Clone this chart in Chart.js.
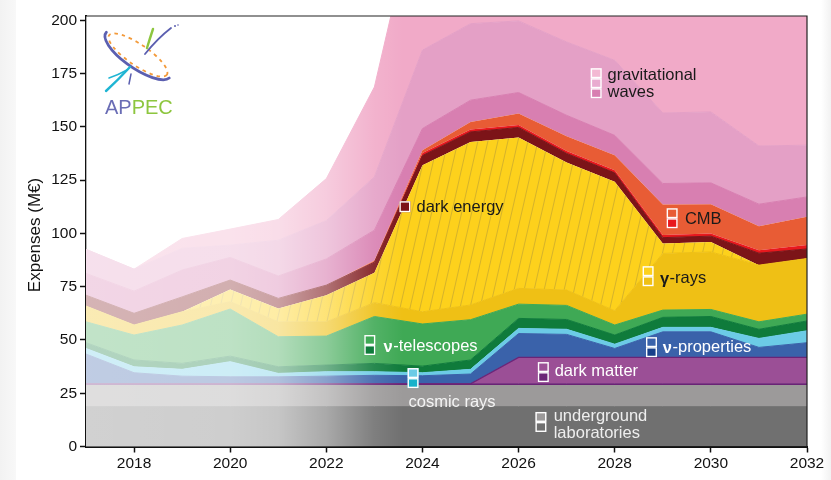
<!DOCTYPE html>
<html>
<head>
<meta charset="utf-8">
<script src="https://cdn.jsdelivr.net/npm/chart.js@4.4.1/dist/chart.umd.min.js"></script>
<style>
  html, body { margin: 0; padding: 0; background: #fff; }
  #wrap { width: 831px; height: 480px; }
</style>
</head>
<body>
<div id="wrap"><canvas id="chart" width="831" height="480"></canvas></div>
<script>
const years = [2017, 2018, 2019, 2020, 2021, 2022, 2023, 2024, 2025, 2026, 2027, 2028, 2029, 2030, 2031, 2032];
const yTicks = [0, 25, 50, 75, 100, 125, 150, 175, 200];

// layer thicknesses (M€), bottom to top
const undergroundA = [18.7, 18.7, 18.7, 18.7, 18.7, 18.7, 18.7, 18.7, 18.7, 18.7, 18.7, 18.7, 18.7, 18.7, 18.7, 18.7];
const undergroundB = [9.9, 9.9, 9.9, 9.9, 9.9, 9.9, 9.9, 9.9, 9.9, 9.9, 9.9, 9.9, 9.9, 9.9, 9.9, 9.9];
const darkMatterA = [0.8, 0.8, 0.8, 0.8, 0.8, 0.8, 0.8, 0.8, 0.8, 0.8, 0.8, 0.8, 0.8, 0.8, 0.8, 0.8];
const darkMatterB = [0, 0, 0, 0, 0, 0, 0, 0, 0, 12.4, 12.4, 12.4, 12.4, 12.4, 12.4, 12.4];
const nuPropA = [14, 5.2, 3.6, 3.3, 3.3, 3.6, 4, 3.8, 4.6, 11.2, 10.8, 4.2, 12, 12, 4.7, 6.9];
const nuPropB = [2.6, 2.8, 3.2, 7.1, 1.6, 2.1, 1.7, 1.4, 2.2, 2.4, 2.4, 2, 2.1, 2.1, 4.2, 5.6];
const nuTelA = [2.7, 3.2, 2.8, 2.6, 3.1, 3.1, 3.9, 3.1, 4.4, 4.7, 4.6, 4.3, 4.7, 5.1, 4.3, 4.6];
const nuTelB = [9.8, 11.7, 18, 22.1, 14.1, 13.6, 22, 19.8, 18.9, 6.7, 6.6, 4.7, 3.4, 3.3, 3.5, 3.2];
const gammaA = [7.4, 4.7, 6.2, 3.5, 7, 6.7, 6.5, 5.7, 6.9, 7.4, 7.2, 6.7, 26.6, 27, 26.6, 26.1];
const gammaB = [0, 0, 0, 5.7, 6.3, 12.5, 14, 68.8, 76.5, 70.8, 59.9, 60.5, 4.7, 4.7, 0, 0];
const darkEnergy = [5.1, 5.5, 7, 4.4, 4.7, 4.7, 5, 4.5, 4.7, 4.7, 4.2, 4.2, 2.7, 2.7, 5.6, 4.5];
const cmbA = [0, 0, 0, 0, 0, 0, 0.3, 1.2, 1.2, 1.2, 1.2, 1.2, 1.2, 1.3, 1.4, 1.8];
const cmbB = [0, 0, 0, 0, 0, 0, 0.5, 1.3, 3.5, 5.3, 6.9, 7.1, 14.3, 13.7, 11.3, 13.3];
const gwA = [10.2, 10.4, 12.6, 10.6, 10.5, 12.3, 14.2, 10.2, 10.2, 9.9, 9.8, 9.3, 9.9, 10, 10.3, 9.3];
const gwB = [11.3, 10.3, 10.2, 5.8, 16.8, 18, 25, 36.8, 35.9, 33.6, 34.4, 35.2, 33.1, 33.3, 27.3, 24.3];
const gwC = [0, 0, 4.6, 7.5, 9.7, 19.7, 42.2, 80, 63.6, 58.3, 64.2, 68.8, 89.5, 85, 99, 98.6];

// how washed out the early years are
const fadeStops = [[2017, 0.68], [2020, 0.66], [2021, 0.6], [2022, 0.4], [2023, 0.1], [2023.6, 0]];

const FONT = '"Liberation Sans", Arial, sans-serif';

function makeHatch() {
  const c = document.createElement('canvas');
  c.width = 10; c.height = 44;
  const g = c.getContext('2d');
  g.fillStyle = '#fdd11c';
  g.fillRect(0, 0, 10, 44);
  g.strokeStyle = 'rgba(125,110,80,0.45)';
  g.lineWidth = 0.7;
  for (const dx of [-10, 0, 10]) {
    g.beginPath(); g.moveTo(dx, 44); g.lineTo(dx + 10, 0); g.stroke();
  }
  return g.createPattern(c, 'repeat');
}
const hatch = makeHatch();

function layer(label, data, color, extra) {
  return Object.assign({
    label: label,
    data: data,
    backgroundColor: color,
    borderColor: color,
    borderWidth: 1,
    fill: '-1',
    pointRadius: 0,
    tension: 0
  }, extra || {});
}

const datasets = [
  layer('underground laboratories A', undergroundA, '#707070', { fill: 'origin' }),
  layer('underground laboratories B', undergroundB, '#9c9a9a'),
  layer('dark matter A', darkMatterA, '#6b2477'),
  layer('dark matter B', darkMatterB, '#9b4f96', { borderColor: '#6b2477', borderWidth: 1.2 }),
  layer('ν-properties A', nuPropA, '#3a62aa'),
  layer('ν-properties B', nuPropB, '#6ccbe6'),
  layer('ν-telescopes A', nuTelA, '#0f7b3b'),
  layer('ν-telescopes B', nuTelB, '#3fa955'),
  layer('γ-rays A', gammaA, '#efc015'),
  layer('γ-rays B', gammaB, hatch, { borderColor: 'rgba(0,0,0,0)' }),
  layer('dark energy', darkEnergy, '#7c1418'),
  layer('CMB A', cmbA, '#e8191e', { borderColor: 'rgba(0,0,0,0)' }),
  layer('CMB B', cmbB, '#e85c35', { borderColor: 'rgba(0,0,0,0)' }),
  layer('gravitational waves A', gwA, '#d87fb1'),
  layer('gravitational waves B', gwB, '#e4a0c6'),
  layer('gravitational waves C', gwC, '#f1aac8')
];

// annotation boxes and texts, anchored in (year, value)
const icons = [
  { year: 2027.5, value: 177.5, colors: ['#f3b9d3', '#e9acd0', '#d87fb1'] },
  { year: 2023.52, value: 115.1, colors: ['#7c1418'], h: 11 },
  { year: 2029.08, value: 111.8, colors: ['#e85c35', '#e8191e'] },
  { year: 2028.58, value: 84.6, colors: ['#fdd11c', '#efc015'] },
  { year: 2022.79, value: 52.3, colors: ['#3fa955', '#0f7b3b'] },
  { year: 2023.69, value: 36.8, colors: ['#6ccbe6', '#17b2ca'] },
  { year: 2026.40, value: 39.6, colors: ['#9b4f96', '#6b2477'] },
  { year: 2028.65, value: 51.3, colors: ['#3a62aa', '#173f8a'] },
  { year: 2026.35, value: 16.2, colors: ['#9c9a9a', '#707070'] }
];
const texts = [
  { t: 'gravitational', year: 2027.85, value: 174.0, color: '#1a1a1a' },
  { t: 'waves', year: 2027.85, value: 166.0, color: '#1a1a1a' },
  { t: 'dark energy', year: 2023.875, value: 112.4, color: '#1a1a1a' },
  { t: 'CMB', year: 2029.46, value: 106.4, color: '#1a1a1a' },
  { t: '-rays', b: 'γ', year: 2028.94, value: 79.0, color: '#1a1a1a' },
  { t: '-telescopes', b: 'ν', year: 2023.19, value: 46.9, color: '#ffffff' },
  { t: 'cosmic rays', year: 2023.71, value: 20.9, color: '#f4f4f4' },
  { t: 'dark matter', year: 2026.75, value: 35.2, color: '#ffffff' },
  { t: '-properties', b: 'ν', year: 2029.0, value: 46.7, color: '#ffffff' },
  { t: 'underground', year: 2026.73, value: 14.1, color: '#eeeeee' },
  { t: 'laboratories', year: 2026.73, value: 5.9, color: '#eeeeee' }
];

function px(chart, year) {
  return chart.scales.x.getPixelForValue(year - years[0]);
}

const backgroundPlugin = {
  id: 'bg',
  beforeDraw(chart) {
    const ctx = chart.ctx;
    ctx.save();
    ctx.fillStyle = '#ffffff';
    ctx.fillRect(0, 0, chart.width, chart.height);
    let g = ctx.createLinearGradient(0, 0, 16, 0);
    g.addColorStop(0, '#f2f2f2'); g.addColorStop(1, '#f8f8f8');
    ctx.fillStyle = g;
    ctx.fillRect(0, 0, 16, chart.height);
    g = ctx.createLinearGradient(chart.width - 10, 0, chart.width, 0);
    g.addColorStop(0, '#ffffff'); g.addColorStop(1, '#f2f2f2');
    ctx.fillStyle = g;
    ctx.fillRect(chart.width - 10, 0, 10, chart.height);
    ctx.restore();
  }
};

const fadePlugin = {
  id: 'fade',
  afterDatasetsDraw(chart) {
    const { ctx, chartArea: a } = chart;
    const g = ctx.createLinearGradient(a.left, 0, a.right, 0);
    fadeStops.forEach(([yr, al]) => {
      const p = (px(chart, yr) - a.left) / (a.right - a.left);
      g.addColorStop(Math.max(0, Math.min(1, p)), 'rgba(255,255,255,' + al + ')');
    });
    ctx.save();
    ctx.fillStyle = g;
    ctx.fillRect(a.left, a.top, a.right - a.left, a.bottom - a.top);
    ctx.restore();
  }
};

function drawLogo(ctx) {
  ctx.save();
  ctx.translate(138, 55);
  ctx.rotate(0.6);
  ctx.setLineDash([3.5, 4]);
  ctx.strokeStyle = '#f39a3a';
  ctx.lineWidth = 1.8;
  ctx.beginPath(); ctx.ellipse(0, 0, 35, 10.5, 0, 0, Math.PI * 2); ctx.stroke();
  ctx.setLineDash([]);
  ctx.strokeStyle = '#5b5fb0';
  ctx.lineWidth = 2.8;
  ctx.lineCap = 'round';
  ctx.beginPath(); ctx.ellipse(0, 0, 39, 13.5, 0, 0.1, Math.PI * 1.02); ctx.stroke();
  ctx.restore();

  ctx.save();
  ctx.lineCap = 'round';
  ctx.strokeStyle = '#8dc63f'; ctx.lineWidth = 2.4;
  ctx.beginPath(); ctx.moveTo(147, 48); ctx.quadraticCurveTo(150, 38, 153, 29); ctx.stroke();
  ctx.strokeStyle = '#5b5fb0'; ctx.lineWidth = 1.8;
  ctx.beginPath(); ctx.moveTo(145, 54); ctx.quadraticCurveTo(158, 38, 171, 28); ctx.stroke();
  ctx.fillStyle = '#5b5fb0';
  ctx.beginPath(); ctx.arc(175, 26, 1, 0, Math.PI * 2); ctx.fill();
  ctx.beginPath(); ctx.arc(178, 25, 0.8, 0, Math.PI * 2); ctx.fill();
  ctx.strokeStyle = '#1fb5d3'; ctx.lineWidth = 2.4;
  ctx.beginPath(); ctx.moveTo(130, 67); ctx.quadraticCurveTo(118, 80, 106, 91); ctx.stroke();
  ctx.lineWidth = 1.5;
  ctx.beginPath(); ctx.moveTo(127, 70); ctx.quadraticCurveTo(118, 75, 109, 78); ctx.stroke();
  ctx.strokeStyle = '#5b5fb0'; ctx.lineWidth = 1.5;
  ctx.beginPath(); ctx.moveTo(131, 74); ctx.lineTo(129, 84); ctx.stroke();
  ctx.font = '20px ' + FONT;
  ctx.textBaseline = 'alphabetic';
  ctx.fillStyle = '#6a6db5';
  ctx.fillText('AP', 105, 114);
  const w = ctx.measureText('AP').width;
  ctx.fillStyle = '#8dc63f';
  ctx.fillText('PEC', 105 + w, 114);
  ctx.restore();
}

const labelPlugin = {
  id: 'labels',
  afterDraw(chart) {
    const { ctx, chartArea: a, scales: { y } } = chart;
    ctx.save();
    // frame top / right
    ctx.strokeStyle = '#222';
    ctx.lineWidth = 1.2;
    ctx.beginPath();
    ctx.moveTo(a.left, a.top); ctx.lineTo(a.right, a.top); ctx.lineTo(a.right, a.bottom);
    ctx.stroke();

    icons.forEach(ic => {
      const x = px(chart, ic.year);
      const top = y.getPixelForValue(ic.value);
      const h = ic.h || 10;
      ic.colors.forEach((c, i) => {
        ctx.fillStyle = c;
        ctx.fillRect(x, top + i * h, 11, h);
      });
      ctx.strokeStyle = '#ffffff';
      ctx.lineWidth = 1.4;
      ic.colors.forEach((c, i) => ctx.strokeRect(x + 0.7, top + i * h + 0.7, 9.6, h - 1.4));
    });

    ctx.textBaseline = 'middle';
    texts.forEach(t => {
      let x = px(chart, t.year);
      const yy = y.getPixelForValue(t.value);
      ctx.fillStyle = t.color;
      if (t.b) {
        ctx.font = 'bold 16.5px ' + FONT;
        ctx.fillText(t.b, x, yy + 1);
        x += ctx.measureText(t.b).width + 0.5;
      }
      ctx.font = '16.5px ' + FONT;
      ctx.fillText(t.t, x, yy);
    });

    // axis title
    ctx.translate(35, 235);
    ctx.rotate(-Math.PI / 2);
    ctx.textAlign = 'center';
    ctx.fillStyle = '#111';
    ctx.font = '17px ' + FONT;
    ctx.fillText('Expenses (M€)', 0, 0);
    ctx.restore();

    drawLogo(ctx);
  }
};

new Chart(document.getElementById('chart'), {
  type: 'line',
  data: { labels: years, datasets: datasets },
  plugins: [backgroundPlugin, fadePlugin, labelPlugin],
  options: {
    responsive: false,
    animation: false,
    events: [],
    layout: { padding: { left: 0, top: 16, right: 24, bottom: 0 } },
    plugins: { legend: { display: false }, tooltip: { enabled: false }, filler: { propagate: false } },
    scales: {
      x: {
        type: 'category',
        offset: false,
        z: 1,
        grid: {
          drawOnChartArea: false,
          tickLength: 6,
          tickWidth: 1.5,
          tickColor: c => (c.index % 2 === 1 ? '#111' : 'rgba(0,0,0,0)')
        },
        border: { display: true, color: '#111', width: 2 },
        ticks: {
          autoSkip: false,
          maxRotation: 0,
          padding: 2,
          color: '#111',
          font: { family: FONT, size: 15.5 },
          callback: (v, i) => (i % 2 === 1 ? String(years[i]) : '')
        },
        afterFit: s => { s.height = 33.5; }
      },
      y: {
        stacked: true,
        min: 0,
        max: 202,
        z: 1,
        afterBuildTicks: s => { s.ticks = yTicks.map(v => ({ value: v })); },
        grid: { drawOnChartArea: false, tickLength: 6, tickWidth: 1.5, tickColor: '#111' },
        border: { display: true, color: '#111', width: 2 },
        ticks: { padding: 3, color: '#111', font: { family: FONT, size: 15.5 } },
        afterFit: s => { s.width = 86; }
      }
    }
  }
});
</script>
</body>
</html>
